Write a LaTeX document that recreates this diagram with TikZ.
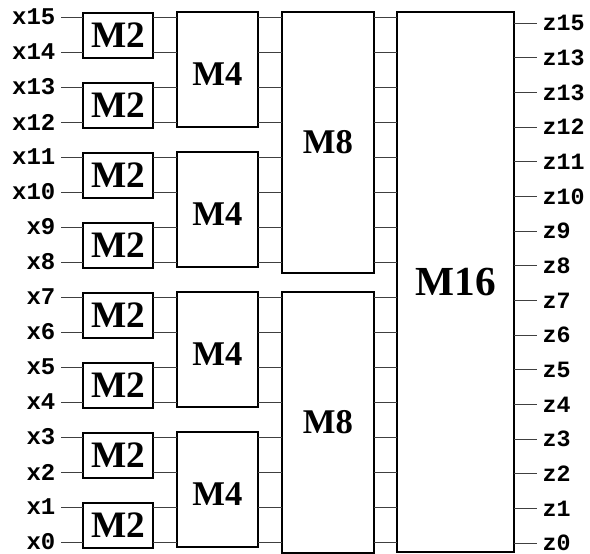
\documentclass[tikz,border=0pt]{standalone}
\usepackage{fontspec}
\setmainfont{Liberation Serif}
\newfontfamily\lblfont{Liberation Mono}
\begin{document}
\begin{tikzpicture}[x=0.75pt,y=-0.75pt,
  box/.style={draw=black,line width=1.5pt,fill=white,inner sep=0pt,outer sep=0pt,
    font=\bfseries\fontsize{26}{26}\selectfont},
  smallbox/.style={box,font=\bfseries\fontsize{28}{28}\selectfont},
  bigbox/.style={box,font=\bfseries\fontsize{31}{31}\selectfont},
  wire/.style={draw=black!75,line width=0.75pt},
  inlbl/.style={font=\lblfont\bfseries\fontsize{18}{18}\selectfont,inner ysep=0pt,inner xsep=4pt,anchor=east},
  outlbl/.style={font=\lblfont\bfseries\fontsize{17.5}{17.5}\selectfont,inner ysep=0pt,inner xsep=4pt,anchor=west}]
\useasboundingbox (0,0) rectangle (590,554);
% M2 blocks
\foreach \k in {0,...,7}{
  \pgfmathsetmacro\yc{17+(15-2*\k)*35-17.5+0.5}
  \node[smallbox,minimum width=52.5pt,minimum height=33.75pt] (m2-\k) at (118,\yc) {M2};
}
% M4 blocks
\foreach \k in {0,...,3}{
  \pgfmathsetmacro\yc{17+(15-4*\k)*35-52.5}
  \node[box,minimum width=60.75pt,minimum height=86.25pt,
    label={[font=\bfseries\fontsize{26}{26}\selectfont,inner sep=0pt,yshift=-3.75pt]center:M4}] (m4-\k) at (217.5,\yc) {};
}
% M8 blocks
\foreach \k in {0,1}{
  \pgfmathsetmacro\yc{17+(15-8*\k)*35-122.5+3}
  \node[box,minimum width=69pt,minimum height=195.75pt] (m8-\k) at (328,\yc) {M8};
}
% M16 block
\node[bigbox,minimum width=87.75pt,minimum height=405pt] (m16) at (455.5,282) {M16};
% inputs and internal wires
\foreach \i in {0,...,15}{
  \pgfmathsetmacro\yy{17+(15-\i)*35}
  \pgfmathtruncatemacro\ka{int(\i/2)}
  \pgfmathtruncatemacro\kb{int(\i/4)}
  \pgfmathtruncatemacro\kc{int(\i/8)}
  \node[inlbl] (x\i) at (61,\yy) {x\i};
  \draw[wire] (x\i.east) -- (x\i.east -| m2-\ka.west);
  \draw[wire] (x\i.east -| m2-\ka.east) -- (x\i.east -| m4-\kb.west);
  \draw[wire] (x\i.east -| m4-\kb.east) -- (x\i.east -| m8-\kc.west);
  \draw[wire] (x\i.east -| m8-\kc.east) -- (x\i.east -| m16.west);
}
% outputs
\foreach \j/\t in {15/z15,14/z13,13/z13,12/z12,11/z11,10/z10,9/z9,8/z8,7/z7,6/z6,5/z5,4/z4,3/z3,2/z2,1/z1,0/z0}{
  \pgfmathsetmacro\yy{23+(15-\j)*34.67}
  \node[outlbl] (z\j) at (537,\yy) {\t};
  \draw[wire] (z\j.west -| m16.east) -- (z\j.west);
}
\end{tikzpicture}
\end{document}
